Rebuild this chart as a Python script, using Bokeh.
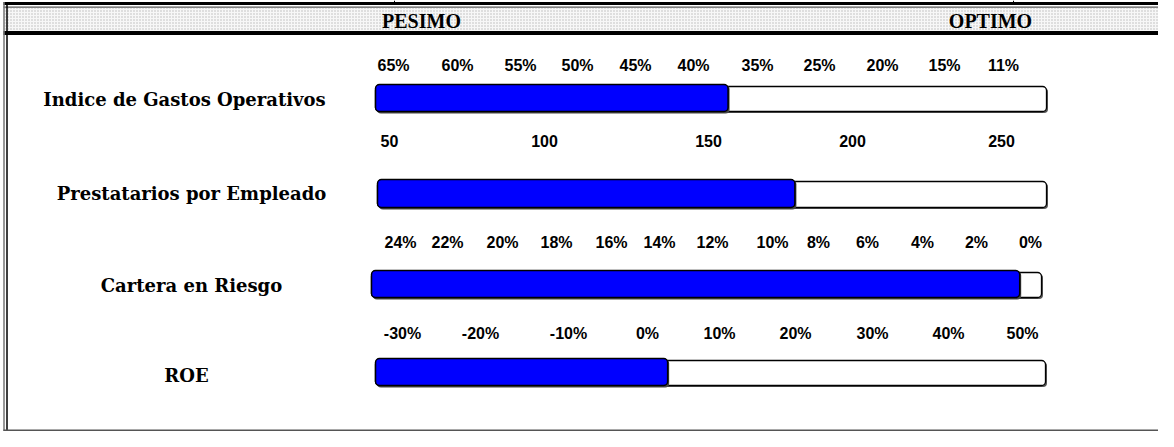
from bokeh.plotting import figure
from bokeh.models import Range1d
from bokeh.core.properties import value
from bokeh.embed import file_html
from bokeh.resources import INLINE
import numpy as np

# ---------------- data ----------------
indicators = ["Indice de Gastos Operativos", "Prestatarios por Empleado",
              "Cartera en Riesgo", "ROE"]
gastos_ticks = [65, 60, 55, 50, 45, 40, 35, 25, 20, 15, 11]
prestatarios_ticks = [50, 100, 150, 200, 250]
cartera_ticks = [24, 22, 20, 18, 16, 14, 12, 10, 8, 6, 4, 2, 0]
roe_ticks = [-30, -20, -10, 0, 10, 20, 30, 40, 50]
tick_suffix = ["%", "", "%", "%"]
indicator_values = [37.3, 180, 0.4, 2.8]
header_labels = ["PESIMO", "OPTIMO"]

all_ticks = [gastos_ticks, prestatarios_ticks, cartera_ticks, roe_ticks]

# ---------------- layout (pixel frame of the picture) ----------------
tick_x = [
    [393, 457, 520, 577, 635, 693, 757, 819, 882, 944, 1003],
    [389, 544, 708, 852, 1001],
    [400, 447, 502, 556, 611, 659, 712, 772, 818, 867, 922, 976, 1030],
    [402, 480, 568, 647, 719, 795, 872, 948, 1022],
]
tick_y = [65, 140, 242, 333]
bar_left = [375, 377, 371, 375]
bar_right = [1046, 1046, 1041, 1045]
bar_top = [86, 181, 272, 360]
bar_bottom = [111, 207, 297, 385]
label_x = [184, 191, 191, 186]
label_y = [99, 193, 285, 375]
header_x = [421, 990]
header_y = 20

W, H = 1158, 431
p = figure(width=W, height=H, output_backend="svg", toolbar_location=None,
           x_range=Range1d(0, W), y_range=Range1d(H, 0),
           x_axis_location=None, y_axis_location=None, min_border=0,
           background_fill_color="white", border_fill_color="white")
p.grid.visible = False
p.outline_line_color = None

# ---- header band ----
p.quad(left=[3], right=[W], top=[7.5], bottom=[30.5], fill_color="#f7f7f7",
       hatch_pattern=".", hatch_color="#b8b8b8", hatch_scale=3, hatch_weight=1,
       line_color=None)
p.quad(left=[3], right=[W], top=[1.5], bottom=[4.5], fill_color="black", line_color=None)
p.quad(left=[3], right=[W], top=[6], bottom=[7.2], fill_color="#555555", line_color=None)
p.quad(left=[3], right=[W], top=[30.5], bottom=[34.5], fill_color="black", line_color=None)
p.segment(x0=[394, 1013], y0=[0, 0], x1=[394, 1013], y1=[2, 2],
          line_color="black", line_width=1)
p.text(x=header_x, y=[header_y] * 2, text=header_labels, text_align="center",
       text_baseline="middle", text_font=value("Liberation Serif"),
       text_font_style="bold", text_font_size="20px", text_color="black")

# ---- outer frame (left and bottom) ----
p.segment(x0=[3.5], y0=[1.5], x1=[3.5], y1=[H], line_color="#777777", line_width=1.5)
p.segment(x0=[6.5], y0=[1.5], x1=[6.5], y1=[H], line_color="black", line_width=1.5)
p.segment(x0=[3], y0=[430], x1=[W], y1=[430], line_color="#555555", line_width=2)

# ---- indicator rows ----
def to_px(v, ticks, xs):
    t = np.asarray(ticks, dtype=float)
    x = np.asarray(xs, dtype=float)
    if t[0] > t[-1]:
        return float(np.interp(-v, -t, x))
    return float(np.interp(v, t, x))

for i in range(4):
    ticks = all_ticks[i]
    labels = [f"{t}{tick_suffix[i]}" for t in ticks]
    p.text(x=tick_x[i], y=[tick_y[i]] * len(ticks), text=labels, text_align="center",
           text_baseline="middle", text_font=value("Liberation Sans"),
           text_font_style="bold", text_font_size="16px", text_color="black")

    end = to_px(indicator_values[i], ticks, tick_x[i])
    # outer bar shadow + body
    p.quad(left=[bar_left[i] + 1.5], right=[bar_right[i] + 1.5], top=[bar_top[i] + 1.5],
           bottom=[bar_bottom[i] + 1.5], fill_color="#555555", line_color=None,
           border_radius=4)
    p.quad(left=[bar_left[i]], right=[bar_right[i]], top=[bar_top[i]],
           bottom=[bar_bottom[i]], fill_color="white", line_color="black",
           line_width=1.3, border_radius=4)
    # value bar shadow + body
    p.quad(left=[bar_left[i] + 1.5], right=[end + 1.5], top=[bar_top[i] - 1],
           bottom=[bar_bottom[i] + 2], fill_color="#444444", line_color=None,
           border_radius=4)
    p.quad(left=[bar_left[i]], right=[end], top=[bar_top[i] - 2],
           bottom=[bar_bottom[i]], fill_color="#0000FF", line_color="black",
           line_width=1.5, border_radius=4)

p.text(x=label_x, y=label_y, text=indicators, text_align="center",
       text_baseline="middle", text_font=value("DejaVu Serif"),
       text_font_style="bold", text_font_size="18px", text_color="black")

open("out.html", "w").write(file_html(p, INLINE))
